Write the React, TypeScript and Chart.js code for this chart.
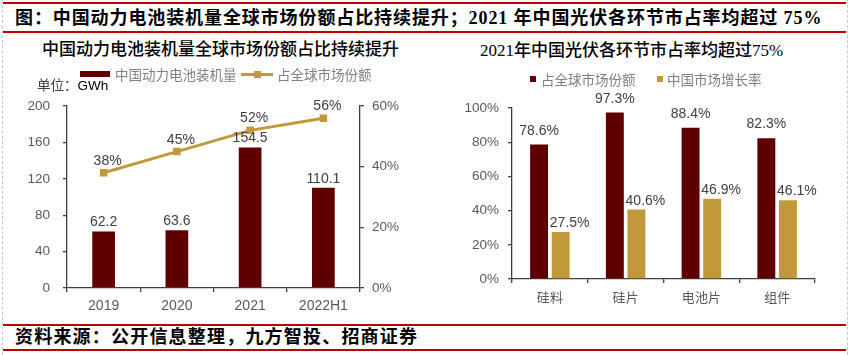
import React, { useEffect, useRef } from 'react';
import { Chart, registerables } from 'chart.js';

Chart.register(...registerables);

// ---------- data ----------
const years = ['2019', '2020', '2021', '2022H1'];
const installVolume = [62.2, 63.6, 154.5, 110.1]; // GWh
const globalShare = [38, 45, 52, 56]; // %
const volumeTicks = { min: 0, max: 200, step: 40 };
const shareTicks = { min: 0, max: 60, step: 20 };

const pvStages = ['硅料', '硅片', '电池片', '组件'];
const pvGlobalShare = [78.6, 97.3, 88.4, 82.3]; // %
const pvChinaGrowth = [27.5, 40.6, 46.9, 46.1]; // %
const pvTicks = { min: 0, max: 100, step: 20 };

const headerText = '图：中国动力电池装机量全球市场份额占比持续提升；2021 年中国光伏各环节市占率均超过 75%';
const leftTitle = '中国动力电池装机量全球市场份额占比持续提升';
const rightTitle = '2021年中国光伏各环节市占率均超过75%';
const sourceText = '资料来源：公开信息整理，九方智投、招商证券';
const leftBarLabel = '中国动力电池装机量';
const leftLineLabel = '占全球市场份额';
const rightBar1Label = '占全球市场份额';
const rightBar2Label = '中国市场增长率';

// ---------- styles ----------
const MAROON = '#5E0000';
const GOLD = '#C2993A';
const RED = '#C00000';
const AXIS = '#404040';
const TICK_TXT = '#595959';
const LATIN = '"Liberation Sans", Arial, sans-serif';
const CJK = '"Noto Sans CJK SC", sans-serif';
const TITLE_FONT = '"Liberation Serif", "Noto Sans CJK SC", serif';

const valueLabels = {
  id: 'valueLabels',
  afterDatasetsDraw(chart: any) {
    const ctx = chart.ctx;
    ctx.save();
    ctx.font = '14px ' + LATIN;
    ctx.fillStyle = '#404040';
    ctx.textAlign = 'center';
    ctx.textBaseline = 'alphabetic';
    chart.data.datasets.forEach((ds: any, i: number) => {
      const meta = chart.getDatasetMeta(i);
      const suffix = ds.labelSuffix || '';
      const dx = ds.labelDx || 0;
      const dy = ds.labelDy == null ? 5 : ds.labelDy;
      meta.data.forEach((el: any, j: number) => {
        const v = ds.data[j];
        ctx.fillText(String(v) + suffix, el.x + dx, el.y - dy);
      });
    });
    ctx.restore();
  },
};

function axisCommon() {
  return {
    grid: { drawOnChartArea: false, tickLength: 4, color: AXIS, lineWidth: 1.3 },
    border: { color: AXIS, width: 1.3 },
  };
}

function LeftChart() {
  const ref = useRef<HTMLCanvasElement>(null);
  useEffect(() => {
    const chart = new Chart(ref.current as HTMLCanvasElement, {
      type: 'bar',
      data: {
        labels: years,
        datasets: [
          {
            type: 'line',
            label: leftLineLabel,
            data: globalShare,
            yAxisID: 'y1',
            borderColor: GOLD,
            backgroundColor: GOLD,
            borderWidth: 3,
            pointStyle: 'rect',
            pointRadius: 5.3,
            pointBorderWidth: 0,
            order: 0,
            labelSuffix: '%',
            labelDy: 8,
            labelDx: 4,
          } as any,
          {
            type: 'bar',
            label: leftBarLabel,
            data: installVolume,
            yAxisID: 'y',
            backgroundColor: MAROON,
            barPercentage: 0.31,
            categoryPercentage: 1,
            order: 1,
            labelDy: 5,
          } as any,
        ],
      },
      options: {
        responsive: false,
        animation: false,
        layout: { padding: { top: 12, left: 0, right: 0, bottom: 0 } },
        plugins: { legend: { display: false }, tooltip: { enabled: false } },
        scales: {
          x: {
            ...axisCommon(),
            ticks: { color: TICK_TXT, font: { family: LATIN, size: 14 }, padding: 6 },
            afterFit: (s: any) => { s.height = 27; },
          },
          y: {
            ...axisCommon(),
            position: 'left',
            min: volumeTicks.min,
            max: volumeTicks.max,
            ticks: { stepSize: volumeTicks.step, color: TICK_TXT, font: { family: LATIN, size: 13.5 }, padding: 13 },
            afterFit: (s: any) => { s.width = 67; },
          },
          y1: {
            ...axisCommon(),
            position: 'right',
            min: shareTicks.min,
            max: shareTicks.max,
            ticks: {
              stepSize: shareTicks.step,
              color: TICK_TXT,
              font: { family: LATIN, size: 13.5 },
              padding: 8,
              callback: (v: any) => v + '%',
            },
            afterFit: (s: any) => { s.width = 70; },
          },
        },
      } as any,
      plugins: [valueLabels],
    });
    return () => chart.destroy();
  }, []);
  return (
    <canvas
      ref={ref}
      width={430}
      height={230}
      style={{ position: 'absolute', left: 0, top: 85, width: 430, height: 230 }}
    />
  );
}

function RightChart() {
  const ref = useRef<HTMLCanvasElement>(null);
  useEffect(() => {
    const chart = new Chart(ref.current as HTMLCanvasElement, {
      type: 'bar',
      data: {
        labels: pvStages,
        datasets: [
          {
            label: rightBar1Label,
            data: pvGlobalShare,
            backgroundColor: MAROON,
            barPercentage: 0.83,
            categoryPercentage: 0.57,
            labelSuffix: '%',
            labelDy: 10,
          } as any,
          {
            label: rightBar2Label,
            data: pvChinaGrowth,
            backgroundColor: GOLD,
            barPercentage: 0.83,
            categoryPercentage: 0.57,
            labelSuffix: '%',
            labelDy: 5,
            labelDx: 9,
          } as any,
        ],
      },
      options: {
        responsive: false,
        animation: false,
        layout: { padding: { top: 23, left: 0, right: 37, bottom: 0 } },
        plugins: { legend: { display: false }, tooltip: { enabled: false } },
        scales: {
          x: {
            ...axisCommon(),
            ticks: { color: TICK_TXT, font: { family: CJK, size: 13 }, padding: 6 },
            afterFit: (s: any) => { s.height = 36; },
          },
          y: {
            ...axisCommon(),
            min: pvTicks.min,
            max: pvTicks.max,
            ticks: {
              stepSize: pvTicks.step,
              color: TICK_TXT,
              font: { family: LATIN, size: 13.5 },
              padding: 9,
              callback: (v: any) => v + '%',
            },
            afterFit: (s: any) => { s.width = 82; },
          },
        },
      } as any,
      plugins: [valueLabels],
    });
    return () => chart.destroy();
  }, []);
  return (
    <canvas
      ref={ref}
      width={422}
      height={230}
      style={{ position: 'absolute', left: 430, top: 85, width: 422, height: 230 }}
    />
  );
}

const abs = (s: React.CSSProperties): React.CSSProperties => ({ position: 'absolute', ...s });

export default function App() {
  const legendText: React.CSSProperties = {
    fontFamily: CJK,
    fontSize: 13.5,
    color: '#7F7F7F',
    lineHeight: '16px',
    whiteSpace: 'nowrap',
  };
  return (
    <div
      style={{
        position: 'fixed',
        left: 0,
        top: 0,
        width: 852,
        height: 355,
        background: '#fff',
        overflow: 'hidden',
      }}
    >
      {/* dashed frame */}
      <div style={abs({ left: 2, top: 0, width: 844, height: 355, borderLeft: '1px dashed #C8C8C8', borderRight: '1px dashed #C8C8C8' })} />
      {/* header */}
      <div style={abs({ left: 3, top: 2, width: 843, height: 2, background: RED })} />
      <div style={abs({ left: 3, top: 31, width: 843, height: 2, background: RED })} />
      <div
        style={abs({
          left: 15,
          top: 6,
          height: 24,
          lineHeight: '24px',
          fontFamily: TITLE_FONT,
          fontWeight: 700,
          fontSize: 18,
          letterSpacing: 0.9,
          color: '#000',
          whiteSpace: 'nowrap',
        })}
      >
        {headerText}
      </div>
      {/* footer */}
      <div style={abs({ left: 3, top: 324, width: 843, height: 2, background: RED })} />
      <div style={abs({ left: 3, top: 349, width: 843, height: 2, background: RED })} />
      <div
        style={abs({
          left: 15,
          top: 325,
          height: 24,
          lineHeight: '24px',
          fontFamily: TITLE_FONT,
          fontWeight: 700,
          fontSize: 18,
          letterSpacing: 1.2,
          color: '#000',
          whiteSpace: 'nowrap',
        })}
      >
        {sourceText}
      </div>

      <LeftChart />
      <RightChart />

      {/* left title & legend */}
      <div
        style={abs({
          left: 0,
          width: 441,
          top: 40,
          lineHeight: '20px',
          textAlign: 'center',
          fontFamily: TITLE_FONT,
          fontWeight: 500,
          fontSize: 17,
          color: '#000',
          whiteSpace: 'nowrap',
        })}
      >
        {leftTitle}
      </div>
      <div style={abs({ left: 80, top: 71, width: 30, height: 6, background: MAROON })} />
      <div style={abs({ left: 115, top: 66, ...legendText })}>{leftBarLabel}</div>
      <div style={abs({ left: 241, top: 72.5, width: 32, height: 3, background: GOLD })} />
      <div style={abs({ left: 253.5, top: 70.5, width: 7.5, height: 7.5, background: GOLD })} />
      <div style={abs({ left: 277, top: 66, ...legendText })}>{leftLineLabel}</div>
      <div style={abs({ left: 37, top: 75, lineHeight: '18px', whiteSpace: 'nowrap' })}>
        <span style={{ fontFamily: CJK, fontSize: 13.5, color: '#404040' }}>单位：</span>
        <span style={{ fontFamily: LATIN, fontSize: 13.5, color: '#000' }}>GWh</span>
      </div>

      {/* right title & legend */}
      <div
        style={abs({
          left: 430,
          width: 403,
          top: 41,
          lineHeight: '20px',
          textAlign: 'center',
          fontFamily: TITLE_FONT,
          fontWeight: 500,
          fontSize: 17,
          color: '#000',
          whiteSpace: 'nowrap',
        })}
      >
        {rightTitle}
      </div>
      <div style={abs({ left: 530, top: 76, width: 6, height: 6, background: MAROON })} />
      <div style={abs({ left: 541, top: 71, ...legendText })}>{rightBar1Label}</div>
      <div style={abs({ left: 657, top: 76, width: 6, height: 6, background: GOLD })} />
      <div style={abs({ left: 667, top: 71, ...legendText })}>{rightBar2Label}</div>
    </div>
  );
}
